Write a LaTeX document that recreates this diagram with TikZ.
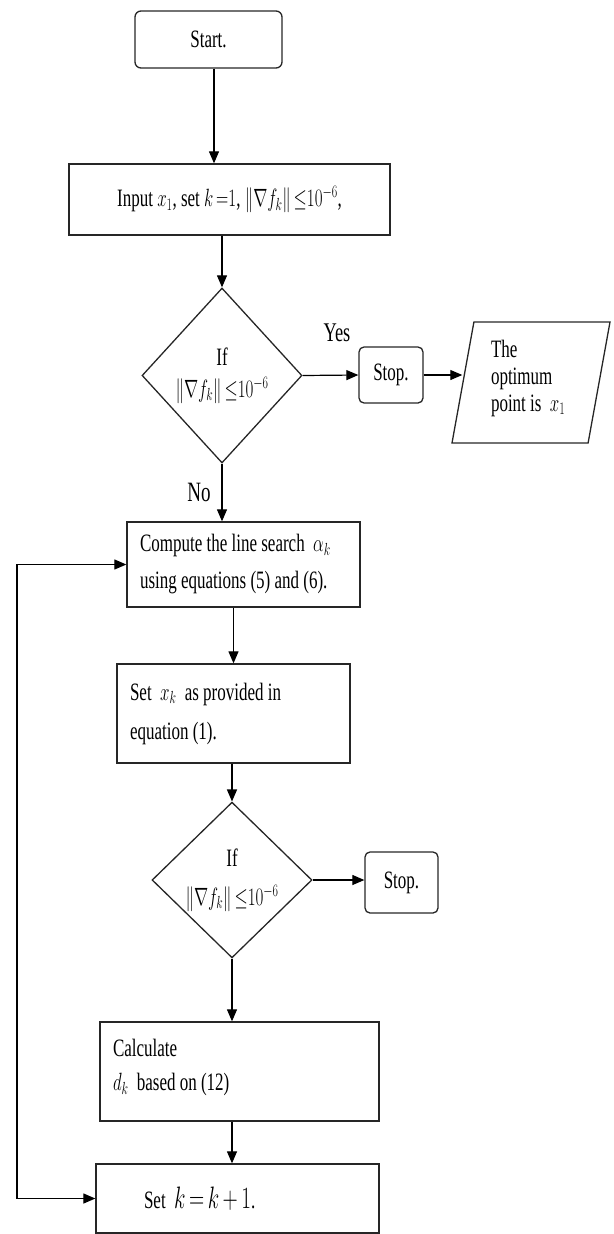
\RequirePackage{fix-cm}
\documentclass[tikz,border=0pt]{standalone}
\usepackage[no-math]{fontspec}
\setmainfont{Liberation Serif}[FakeStretch=0.68]
\usepackage{graphicx}
\usetikzlibrary{shapes.geometric,arrows.meta}
\newcommand{\mm}[1]{\scalebox{0.68}[1]{$#1$}}
\newcommand{\nrm}{\mm{\left\|\nabla f_k\right\|{\le}10^{-6}}}
\tikzset{
  base/.style={draw=black!85, line width=1.3pt, inner sep=0pt,
    font=\fontsize{25pt}{30pt}\selectfont},
  rbox/.style={base, rectangle, rounded corners=6pt},
  sbox/.style={base, rectangle},
  dec/.style={base, diamond, align=center},
  arr/.style={line width=1.2pt, -{Triangle[length=12pt,width=10pt]}},
  lab/.style={inner sep=0pt},
}
\begin{document}
\begin{tikzpicture}[x=1pt,y=-1pt]
\useasboundingbox (0,0) rectangle (613,1234);
% nodes
\node[rbox, minimum width=147pt, minimum height=57pt] (start) at (208.5,39.5) {Start.};
\node[sbox, minimum width=321pt, minimum height=71pt] (input) at (229.5,199.5)
  {Input \mm{x_1}, set \mm{k\,{=}1}, \nrm,};
\node[dec, minimum width=160pt, minimum height=175pt,
  font=\fontsize{25pt}{32pt}\selectfont] (d1) at (222,375.5) {If\\ \nrm};
\node[rbox, rounded corners=5pt, minimum width=64pt, minimum height=56pt] (stop1) at (391,375) {Stop.};
\node[base, trapezium, trapezium left angle=75.6, trapezium right angle=104.4,
  trapezium stretches body, minimum width=158pt, minimum height=121pt,
  text width=80pt, align=flush left, font=\fontsize{25pt}{27pt}\selectfont] (opt) at (531,382.5)
  {The\\ optimum\\ point is \,\mm{x_1}\\[-13pt]\mbox{}};
\node[sbox, minimum width=233pt, minimum height=85pt, text width=207pt, inner xsep=13pt,
  align=flush left, font=\fontsize{25pt}{37pt}\selectfont] (comp) at (243.5,564.5)
  {Compute the line search \,\mm{\alpha_k}\\ using equations (5) and (6).};
\node[sbox, minimum width=233pt, minimum height=99pt, text width=207pt, inner xsep=13pt,
  align=flush left, font=\fontsize{25pt}{39pt}\selectfont] (setx) at (233.5,713.5)
  {Set \,\mm{x_k}\, as provided in\\ equation (1).};
\node[dec, minimum width=160pt, minimum height=146pt,
  font=\fontsize{25pt}{39pt}\selectfont] (d2) at (232,880) {If\\ \nrm};
\node[rbox, rounded corners=5pt, minimum width=73pt, minimum height=61pt] (stop2) at (401.5,882.5) {Stop.};
\node[sbox, minimum width=279pt, minimum height=99pt, text width=253pt, inner xsep=13pt,
  align=flush left, font=\fontsize{25pt}{34pt}\selectfont] (calc) at (239.5,1071.5)
  {Calculate\\ \mm{d_k}\, based on (12)\\[-21pt]\mbox{}};
\node[sbox, minimum width=283pt, minimum height=69pt, text width=187pt, inner xsep=48pt,
  align=flush left] (setk) at (237.5,1198.5)
  {Set\, {\fontsize{31pt}{31pt}\selectfont\mm{k\,{=}\,k\,{+}\,1}}.};
\node[lab, font=\fontsize{27pt}{27pt}\selectfont] (yes) at (337,333) {Yes};
\node[lab, font=\fontsize{28pt}{28pt}\selectfont] (no) at (199,492) {No};
\coordinate (loopx) at (17,0);
% connectors
\draw[arr] ([xshift=5.5pt]start.south) -- ([xshift=5.5pt]start.south |- input.north);
\draw[arr] (input.south -| d1.north) -- (d1.north);
\draw[arr] (d1.east) -- (stop1.west);
\draw[arr] (stop1.east) -- (opt.west |- stop1.east);
\draw[arr] (d1.south) -- (d1.south |- comp.north);
\draw[arr] (setx.north |- comp.south) -- (setx.north);
\draw[arr] (d2.north |- setx.south) -- (d2.north);
\draw[arr] (d2.east) -- (d2.east -| stop2.west);
\draw[arr] (d2.south) -- (d2.south |- calc.north);
\draw[arr] (d2.south |- calc.south) -- (d2.south |- setk.north);
\draw[line width=1.2pt, {Triangle[length=12pt,width=10pt]}-{Triangle[length=12pt,width=10pt]}]
  (setk.west) -- (setk.west -| loopx) |- (comp.west);
\end{tikzpicture}
\end{document}
